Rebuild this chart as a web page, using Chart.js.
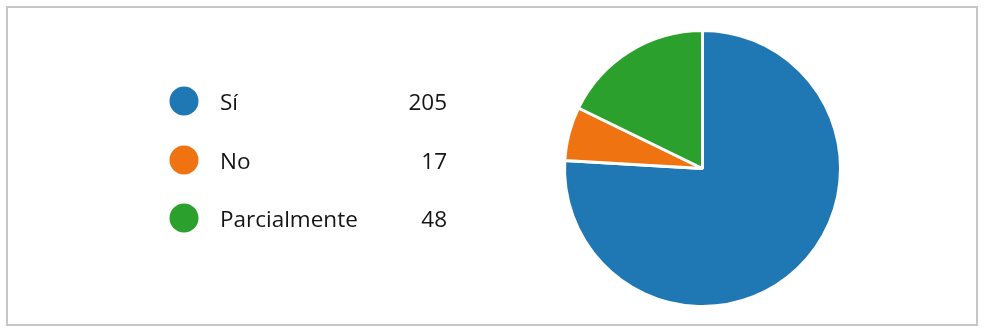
<!DOCTYPE html>
<html>
<head>
<meta charset="utf-8">
<script src="https://cdn.jsdelivr.net/npm/chart.js@4"></script>
<style>
html,body{margin:0;padding:0;background:#fff;}
#wrap{position:absolute;left:0;top:0;width:985px;height:332px;}
#box{position:absolute;left:6px;top:6px;width:968px;height:316px;border:2px solid #c6c6c6;}
canvas{position:absolute;left:0;top:0;}
</style>
</head>
<body>
<div id="wrap">
<div id="box"></div>
<canvas id="c" width="985" height="332"></canvas>
</div>
<script>
const labels = ["Sí", "No", "Parcialmente"];
const values = [205, 17, 48];
const colors = ["#1f77b4", "#ef7411", "#2ca02c"];

const legendPlugin = {
  id: 'sideLegend',
  afterDraw(chart) {
    const ctx = chart.ctx;
    const ds = chart.data.datasets[0];
    const rowY = [101, 160, 218];
    ctx.save();
    chart.data.labels.forEach((lab, i) => {
      const y = rowY[i];
      ctx.beginPath();
      ctx.arc(184, y, 14.5, 0, Math.PI * 2);
      ctx.fillStyle = ds.backgroundColor[i];
      ctx.fill();
      ctx.fillStyle = '#151515';
      ctx.font = '22.5px "Open Sans"';
      ctx.textBaseline = 'middle';
      ctx.textAlign = 'left';
      ctx.fillText(lab, 220, y + 3);
      ctx.textAlign = 'right';
      ctx.fillText(String(ds.data[i]), 447, y + 3);
    });
    ctx.restore();
  }
};

new Chart(document.getElementById('c'), {
  type: 'pie',
  data: {
    labels: labels,
    datasets: [{
      data: values,
      backgroundColor: colors,
      borderColor: '#ffffff',
      borderWidth: 3
    }]
  },
  options: {
    responsive: false,
    animation: false,
    layout: { padding: { left: 563, right: 143, top: 29, bottom: 24 } },
    plugins: { legend: { display: false }, tooltip: { enabled: false } }
  },
  plugins: [legendPlugin]
});
</script>
</body>
</html>
